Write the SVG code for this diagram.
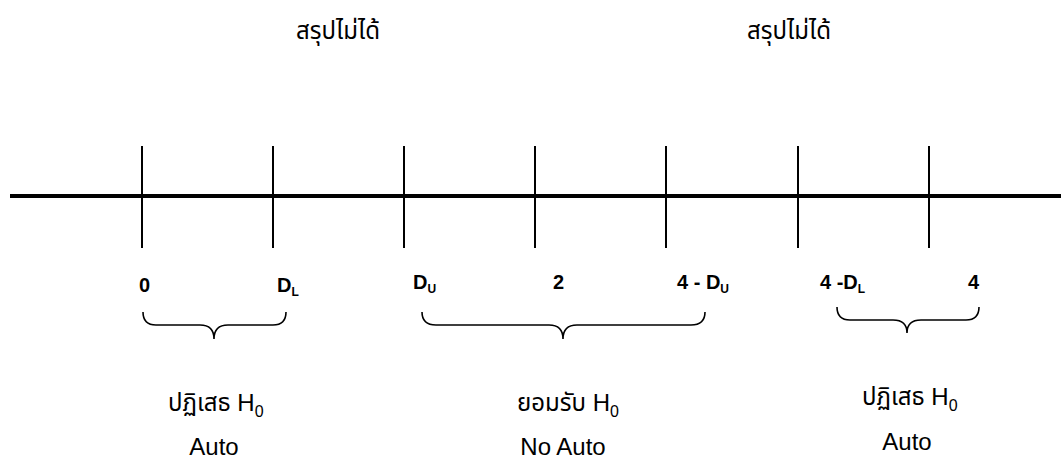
<svg xmlns="http://www.w3.org/2000/svg" width="1061" height="459" viewBox="0 0 1061 459">
<style>
.axis{stroke:#000;stroke-width:4;fill:none}
.tick{stroke:#000;stroke-width:2;fill:none}
.brace{stroke:#000;stroke-width:1.6;fill:none}
.t{font-family:"Liberation Sans","Noto Sans Thai","Noto Sans",Arial,sans-serif;font-size:24px;fill:#000}
.b{font-family:"Liberation Sans",Arial,sans-serif;font-size:20px;font-weight:bold;fill:#000}
.sub{font-size:12px}
.hs{font-size:16px}
</style>
<rect width="1061" height="459" fill="#fff"/>
<g id="connectors">
<line class="axis" x1="10" y1="196" x2="1061" y2="196"/>
<line class="tick" x1="142" y1="146" x2="142" y2="248"/>
<line class="tick" x1="273" y1="146" x2="273" y2="248"/>
<line class="tick" x1="404" y1="146" x2="404" y2="248"/>
<line class="tick" x1="535" y1="146" x2="535" y2="248"/>
<line class="tick" x1="666" y1="146" x2="666" y2="248"/>
<line class="tick" x1="798" y1="146" x2="798" y2="248"/>
<line class="tick" x1="929" y1="146" x2="929" y2="248"/>
<path class="brace" d="M143,312 Q143,325 156,325 L200,325 Q214,325 214,339 Q214,325 228,325 L273,325 Q286,325 286,312"/>
<path class="brace" d="M422,312 Q422,325 436,325 L549,325 Q563,325 563,339 Q563,325 577,325 L691,325 Q705,325 705,312"/>
<path class="brace" d="M837,307 Q837,320 850,320 L893,320 Q907,320 907,333 Q907,320 921,320 L966,320 Q979,320 979,307"/>
</g>
<g id="top-labels">
<text class="t" x="338" y="39" text-anchor="middle">สรุปไม่ได้</text>
<text class="t" x="789" y="39" text-anchor="middle">สรุปไม่ได้</text>
</g>
<g id="tick-labels">
<text class="b" x="139" y="292">0</text>
<text class="b" x="277" y="292">D<tspan class="sub" dy="4">L</tspan></text>
<text class="b" x="413" y="289">D<tspan class="sub" dy="4">U</tspan></text>
<text class="b" x="553" y="289">2</text>
<text class="b" x="677" y="289">4 - D<tspan class="sub" dy="4">U</tspan></text>
<text class="b" x="820" y="289">4 -D<tspan class="sub" dy="4">L</tspan></text>
<text class="b" x="968" y="289">4</text>
</g>
<g id="region-left">
<text class="t" x="168" y="411">ปฏิเสธ H<tspan class="hs" dy="6">0</tspan></text>
<text class="t" x="214" y="455" text-anchor="middle">Auto</text>
</g>
<g id="region-middle">
<text class="t" x="517" y="411">ยอมรับ H<tspan class="hs" dy="6">0</tspan></text>
<text class="t" x="563" y="455" text-anchor="middle">No Auto</text>
</g>
<g id="region-right">
<text class="t" x="862" y="405">ปฏิเสธ H<tspan class="hs" dy="6">0</tspan></text>
<text class="t" x="907" y="450" text-anchor="middle">Auto</text>
</g>
</svg>
